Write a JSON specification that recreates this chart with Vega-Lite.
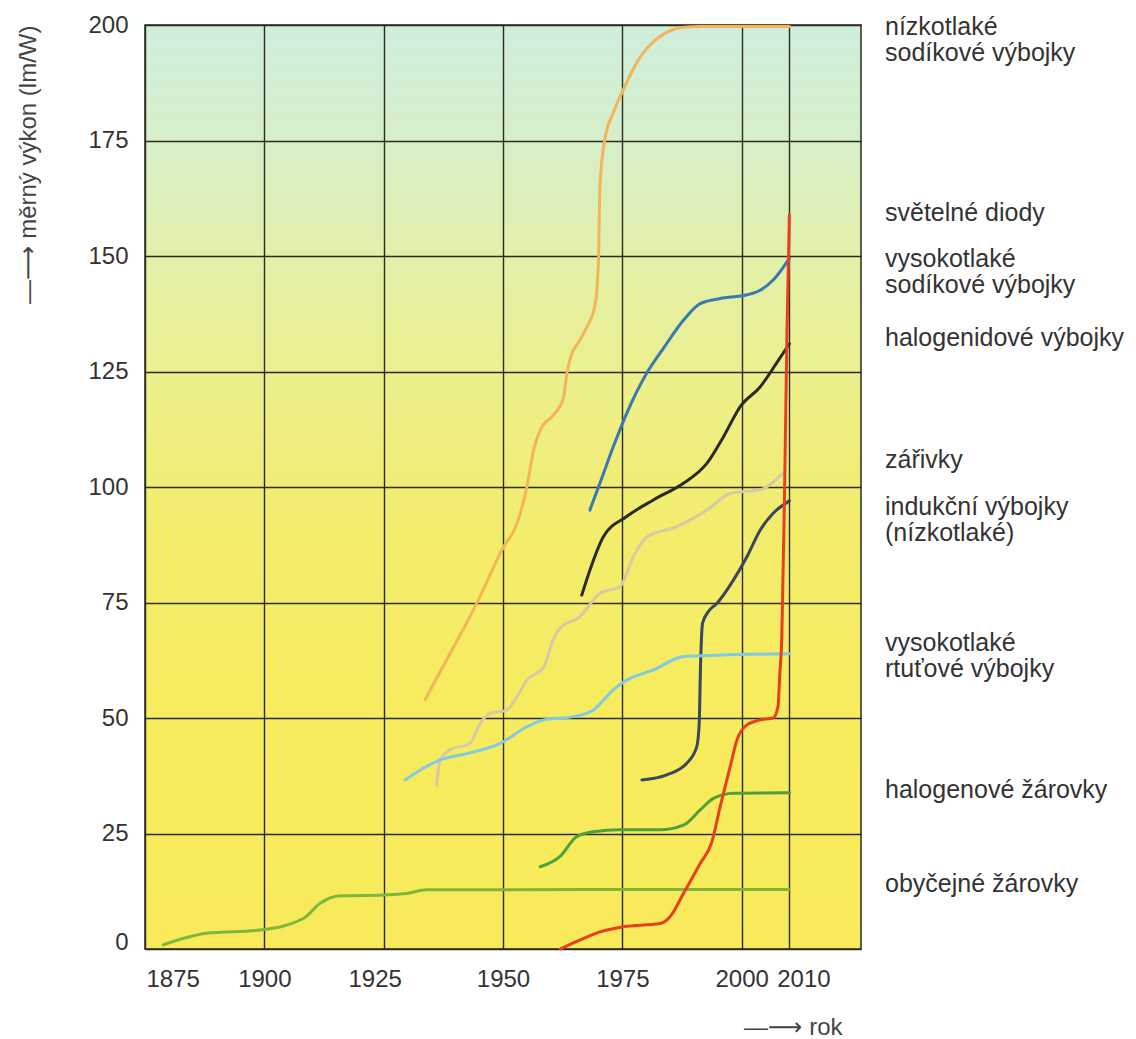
{
  "$schema": "https://vega.github.io/schema/vega-lite/v6.json",
  "width": 716,
  "height": 924,
  "autosize": {"type": "none"},
  "padding": {"left": 145, "top": 25, "right": 275, "bottom": 90},
  "background": "white",
  "config": {
    "font": "Liberation Sans, DejaVu Sans, sans-serif",
    "view": {
      "stroke": "#2b2b1e",
      "strokeWidth": 1.5,
      "fill": {
        "gradient": "linear",
        "x1": 0, "y1": 0, "x2": 0, "y2": 1,
        "stops": [
          {"offset": 0, "color": "#cfeedc"},
          {"offset": 0.12, "color": "#d6efca"},
          {"offset": 0.25, "color": "#e2f0aa"},
          {"offset": 0.4, "color": "#edef88"},
          {"offset": 0.55, "color": "#f3ed6c"},
          {"offset": 0.75, "color": "#f7ec5e"},
          {"offset": 1, "color": "#f8ea5a"}
        ]
      }
    },
    "axis": {
      "domain": false,
      "ticks": false,
      "grid": true,
      "gridColor": "#2b2b1e",
      "gridWidth": 1.4,
      "gridOpacity": 1,
      "labelColor": "#333333",
      "labelFontSize": 24,
      "titleColor": "#444444",
      "titleFontWeight": "normal",
      "titleFontSize": 24
    }
  },
  "datasets": {
    "lines": [
      {"s": "ns", "year": 1933.7, "v": 54},
      {"s": "ns", "year": 1938.2, "v": 62.6},
      {"s": "ns", "year": 1944.5, "v": 74.8},
      {"s": "ns", "year": 1950.1, "v": 87},
      {"s": "ns", "year": 1952.9, "v": 92},
      {"s": "ns", "year": 1955, "v": 100},
      {"s": "ns", "year": 1956.4, "v": 108},
      {"s": "ns", "year": 1957.8, "v": 112.3},
      {"s": "ns", "year": 1960.5, "v": 115.5},
      {"s": "ns", "year": 1962.6, "v": 119},
      {"s": "ns", "year": 1963.4, "v": 124.6},
      {"s": "ns", "year": 1964, "v": 127.5},
      {"s": "ns", "year": 1966.1, "v": 131.8},
      {"s": "ns", "year": 1967.5, "v": 134.5},
      {"s": "ns", "year": 1969.3, "v": 139.5},
      {"s": "ns", "year": 1970, "v": 149},
      {"s": "ns", "year": 1970.3, "v": 165},
      {"s": "ns", "year": 1971.3, "v": 175},
      {"s": "ns", "year": 1973.1, "v": 181},
      {"s": "ns", "year": 1975.2, "v": 186},
      {"s": "ns", "year": 1978.7, "v": 193},
      {"s": "ns", "year": 1982.9, "v": 197.5},
      {"s": "ns", "year": 1987.8, "v": 199.5},
      {"s": "ns", "year": 1991.3, "v": 199.7},
      {"s": "ns", "year": 2010, "v": 199.7},

      {"s": "hs", "year": 1968.2, "v": 95},
      {"s": "hs", "year": 1970.3, "v": 100.8},
      {"s": "hs", "year": 1973.1, "v": 108.7},
      {"s": "hs", "year": 1975.9, "v": 115.9},
      {"s": "hs", "year": 1980.1, "v": 124.6},
      {"s": "hs", "year": 1983.6, "v": 130},
      {"s": "hs", "year": 1987.8, "v": 136.1},
      {"s": "hs", "year": 1991.3, "v": 139.7},
      {"s": "hs", "year": 1995.5, "v": 140.8},
      {"s": "hs", "year": 2001.1, "v": 141.6},
      {"s": "hs", "year": 2003.9, "v": 142.6},
      {"s": "hs", "year": 2006.6, "v": 144.8},
      {"s": "hs", "year": 2010, "v": 149.5},

      {"s": "hal", "year": 1966.5, "v": 76.6},
      {"s": "hal", "year": 1968.2, "v": 82},
      {"s": "hal", "year": 1971, "v": 89.2},
      {"s": "hal", "year": 1975.9, "v": 93.6},
      {"s": "hal", "year": 1981.5, "v": 97.2},
      {"s": "hal", "year": 1987.8, "v": 100.8},
      {"s": "hal", "year": 1992.7, "v": 105.1},
      {"s": "hal", "year": 1996.2, "v": 110.9},
      {"s": "hal", "year": 1999.7, "v": 117.4},
      {"s": "hal", "year": 2003.9, "v": 121.7},
      {"s": "hal", "year": 2007.3, "v": 126.8},
      {"s": "hal", "year": 2010, "v": 131},

      {"s": "zar", "year": 1936.1, "v": 35.5},
      {"s": "zar", "year": 1936.8, "v": 40.9},
      {"s": "zar", "year": 1938.9, "v": 43.1},
      {"s": "zar", "year": 1943.1, "v": 44.5},
      {"s": "zar", "year": 1945.2, "v": 48.8},
      {"s": "zar", "year": 1947.3, "v": 51},
      {"s": "zar", "year": 1950.8, "v": 51.7},
      {"s": "zar", "year": 1952.9, "v": 54.6},
      {"s": "zar", "year": 1955, "v": 58.2},
      {"s": "zar", "year": 1958.5, "v": 61},
      {"s": "zar", "year": 1960.5, "v": 66.9},
      {"s": "zar", "year": 1962, "v": 69.5},
      {"s": "zar", "year": 1966.1, "v": 71.9},
      {"s": "zar", "year": 1970.3, "v": 77},
      {"s": "zar", "year": 1974.5, "v": 78.4},
      {"s": "zar", "year": 1977.3, "v": 84.9},
      {"s": "zar", "year": 1980.1, "v": 89.2},
      {"s": "zar", "year": 1986.4, "v": 91.4},
      {"s": "zar", "year": 1992.7, "v": 95},
      {"s": "zar", "year": 1997.6, "v": 98.6},
      {"s": "zar", "year": 2003.9, "v": 99.4},
      {"s": "zar", "year": 2008.7, "v": 103},

      {"s": "ind", "year": 1979.1, "v": 36.6},
      {"s": "ind", "year": 1984.3, "v": 37.7},
      {"s": "ind", "year": 1988.5, "v": 40.2},
      {"s": "ind", "year": 1990.6, "v": 43.8},
      {"s": "ind", "year": 1991.1, "v": 48.8},
      {"s": "ind", "year": 1991.4, "v": 62},
      {"s": "ind", "year": 1991.8, "v": 70.5},
      {"s": "ind", "year": 1993, "v": 73},
      {"s": "ind", "year": 1994.8, "v": 74.8},
      {"s": "ind", "year": 1998.3, "v": 79.9},
      {"s": "ind", "year": 2001.1, "v": 84.9},
      {"s": "ind", "year": 2003.9, "v": 90.7},
      {"s": "ind", "year": 2006.6, "v": 94.3},
      {"s": "ind", "year": 2010, "v": 97},

      {"s": "hg", "year": 1929.5, "v": 36.6},
      {"s": "hg", "year": 1932.6, "v": 38.7},
      {"s": "hg", "year": 1936.8, "v": 40.9},
      {"s": "hg", "year": 1942.4, "v": 42.3},
      {"s": "hg", "year": 1949.4, "v": 44.5},
      {"s": "hg", "year": 1955, "v": 48.1},
      {"s": "hg", "year": 1958.5, "v": 49.6},
      {"s": "hg", "year": 1964.7, "v": 50.3},
      {"s": "hg", "year": 1968.9, "v": 51.7},
      {"s": "hg", "year": 1973.1, "v": 56.1},
      {"s": "hg", "year": 1975.9, "v": 58.2},
      {"s": "hg", "year": 1981.5, "v": 60.4},
      {"s": "hg", "year": 1987.8, "v": 63.3},
      {"s": "hg", "year": 1994.8, "v": 63.6},
      {"s": "hg", "year": 2010, "v": 63.9},

      {"s": "halz", "year": 1957.8, "v": 17.8},
      {"s": "halz", "year": 1961.9, "v": 20},
      {"s": "halz", "year": 1965.4, "v": 24.3},
      {"s": "halz", "year": 1968.9, "v": 25.4},
      {"s": "halz", "year": 1974.5, "v": 25.8},
      {"s": "halz", "year": 1982.9, "v": 25.8},
      {"s": "halz", "year": 1987.8, "v": 26.8},
      {"s": "halz", "year": 1991.3, "v": 30.1},
      {"s": "halz", "year": 1994.1, "v": 32.6},
      {"s": "halz", "year": 1998.3, "v": 33.7},
      {"s": "halz", "year": 2010, "v": 33.8},

      {"s": "oz", "year": 1878.8, "v": 0.9},
      {"s": "oz", "year": 1887.9, "v": 3.4},
      {"s": "oz", "year": 1899.1, "v": 4.1},
      {"s": "oz", "year": 1908.2, "v": 6.6},
      {"s": "oz", "year": 1911.7, "v": 9.9},
      {"s": "oz", "year": 1915.9, "v": 11.5},
      {"s": "oz", "year": 1924.9, "v": 11.7},
      {"s": "oz", "year": 1929.8, "v": 12},
      {"s": "oz", "year": 1934, "v": 12.8},
      {"s": "oz", "year": 2010, "v": 12.9},

      {"s": "led", "year": 1962, "v": 0},
      {"s": "led", "year": 1966.1, "v": 1.9},
      {"s": "led", "year": 1970.3, "v": 3.7},
      {"s": "led", "year": 1975.2, "v": 4.8},
      {"s": "led", "year": 1982.9, "v": 5.5},
      {"s": "led", "year": 1985, "v": 7},
      {"s": "led", "year": 1987.8, "v": 12},
      {"s": "led", "year": 1991.3, "v": 18.5},
      {"s": "led", "year": 1993.7, "v": 23},
      {"s": "led", "year": 1995.5, "v": 30.8},
      {"s": "led", "year": 1997.6, "v": 39.5},
      {"s": "led", "year": 1999, "v": 45.2},
      {"s": "led", "year": 2001.1, "v": 48.5},
      {"s": "led", "year": 2003.9, "v": 49.6},
      {"s": "led", "year": 2006.6, "v": 50},
      {"s": "led", "year": 2007.6, "v": 52.4},
      {"s": "led", "year": 2008, "v": 59.7},
      {"s": "led", "year": 2008.4, "v": 67},
      {"s": "led", "year": 2009, "v": 100},
      {"s": "led", "year": 2009.5, "v": 134},
      {"s": "led", "year": 2010, "v": 159}
    ],
    "labels": [
      {"t": "nízkotlaké\nsodíkové výbojky", "ly": 197.9},
      {"t": "světelné diody", "ly": 157.6},
      {"t": "vysokotlaké\nsodíkové výbojky", "ly": 147.7},
      {"t": "halogenidové výbojky", "ly": 130.6},
      {"t": "zářivky", "ly": 104.1},
      {"t": "indukční výbojky\n(nízkotlaké)", "ly": 93.9},
      {"t": "vysokotlaké\nrtuťové výbojky", "ly": 64.5},
      {"t": "halogenové žárovky", "ly": 32.7},
      {"t": "obyčejné žárovky", "ly": 12.4}
    ]
  },
  "layer": [
    {
      "data": {"name": "lines"},
      "mark": {"type": "line", "interpolate": "monotone", "strokeWidth": 3, "strokeCap": "round"},
      "encoding": {
        "x": {
          "field": "year", "type": "quantitative",
          "scale": {"domain": [1875, 2025], "nice": false, "zero": false},
          "axis": {
            "values": [1875, 1900, 1925, 1950, 1975, 2000, 2010],
            "format": "d",
            "labelPadding": 18,
            "labelOffset": {
              "condition": [
                {"test": "datum.value == 1875", "value": 1},
                {"test": "datum.value == 1925", "value": -9},
                {"test": "datum.value == 2010", "value": 14}
              ],
              "value": 0
            },
            "title": "—⟶ rok",
            "titleAnchor": "end",
            "titleAlign": "right",
            "titleX": 697,
            "titlePadding": 24
          }
        },
        "y": {
          "field": "v", "type": "quantitative",
          "scale": {"domain": [0, 200], "nice": false},
          "axis": {
            "values": [0, 25, 50, 75, 100, 125, 150, 175, 200],
            "labelPadding": 17,
            "labelBaseline": {"condition": {"test": "datum.value == 0", "value": "alphabetic"}, "value": "middle"},
            "title": "—⟶ měrný výkon (lm/W)",
            "titleAnchor": "end",
            "titlePadding": 47
          }
        },
        "color": {
          "field": "s", "type": "nominal", "legend": null,
          "scale": {
            "domain": ["oz", "halz", "hg", "zar", "ind", "hal", "hs", "ns", "led"],
            "range": ["#7db83c", "#4f9f3a", "#7fcbe2", "#d6caa4", "#3b465c", "#2a2a26", "#3a78b4", "#f2b55a", "#e8401f"]
          }
        }
      }
    },
    {
      "data": {"name": "labels"},
      "mark": {
        "type": "text", "x": "width", "dx": 24, "align": "left", "baseline": "alphabetic",
        "lineBreak": "\n", "lineHeight": 26, "fontSize": 25, "color": "#333333"
      },
      "encoding": {
        "y": {"field": "ly", "type": "quantitative"},
        "text": {"field": "t"}
      }
    }
  ]
}
